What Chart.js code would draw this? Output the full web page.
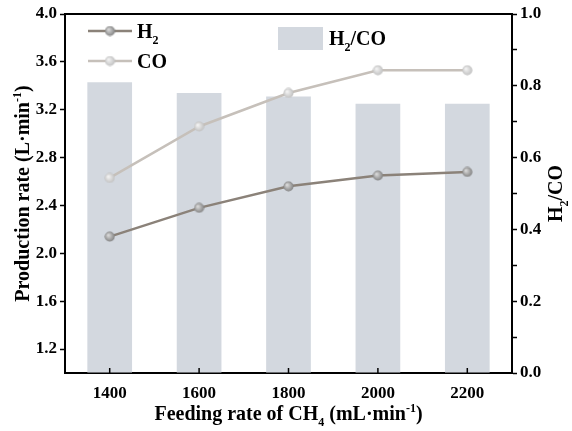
<!DOCTYPE html>
<html>
<head>
<meta charset="utf-8">
<script src="https://cdn.jsdelivr.net/npm/chart.js@4"></script>
<style>
  html, body { margin: 0; padding: 0; background: #fff; }
  #wrap { width: 572px; height: 431px; }
</style>
</head>
<body>
<div id="wrap"><canvas id="gas-chart"></canvas></div>
<script>
const feedRates = ['1400', '1600', '1800', '2000', '2200'];
const h2Rate = [2.14, 2.38, 2.56, 2.65, 2.68];
const coRate = [2.63, 3.06, 3.34, 3.53, 3.53];
const h2CoRatio = [0.81, 0.78, 0.77, 0.75, 0.75];
const leftTicks = [1.2, 1.6, 2.0, 2.4, 2.8, 3.2, 3.6, 4.0];

const FONT = "'Liberation Serif', 'Times New Roman', serif";
const h2Line = '#8b8279';
const coLine = '#c6c0ba';
const barColor = '#d3d8df';

// little shaded ball used as the marker
function ball(base, light) {
    const c = document.createElement('canvas');
    c.width = 11; c.height = 11;
    const g = c.getContext('2d');
    const grad = g.createRadialGradient(4, 4, 0.5, 5.5, 5.5, 5.5);
    grad.addColorStop(0, light);
    grad.addColorStop(1, base);
    g.fillStyle = grad;
    g.beginPath();
    g.arc(5.5, 5.5, 5, 0, Math.PI * 2);
    g.fill();
    return c;
}
const h2Ball = ball('#7d7d7d', '#d8d8d8');
const coBall = ball('#bdbdbd', '#f2f2f2');

// text with sub/superscripts
function richText(ctx, parts, x, y, size, align) {
    const small = Math.round(size * 0.62);
    let w = 0;
    parts.forEach(p => {
        ctx.font = 'bold ' + (p.sub || p.sup ? small : size) + 'px ' + FONT;
        p.w = ctx.measureText(p.t).width;
        w += p.w;
    });
    let cx = align === 'center' ? x - w / 2 : x;
    ctx.textAlign = 'left';
    ctx.textBaseline = 'alphabetic';
    parts.forEach(p => {
        ctx.font = 'bold ' + (p.sub || p.sup ? small : size) + 'px ' + FONT;
        let dy = p.sub ? size * 0.28 : (p.sup ? -size * 0.4 : 0);
        ctx.fillText(p.t, cx, y + dy);
        cx += p.w;
    });
}

const decorations = {
    id: 'decorations',
    afterDraw(chart) {
        const {ctx, chartArea: a, scales: {x}} = chart;
        ctx.save();
        ctx.fillStyle = '#000';
        ctx.strokeStyle = '#000';

        // top frame line
        ctx.lineWidth = 2;
        ctx.beginPath();
        ctx.moveTo(a.left - 1, a.top);
        ctx.lineTo(a.right + 1, a.top);
        ctx.stroke();

        // inward ticks on x axis
        ctx.lineWidth = 1.5;
        feedRates.forEach((r, i) => {
            const px = x.getPixelForValue(i);
            ctx.beginPath();
            ctx.moveTo(px, a.bottom);
            ctx.lineTo(px, a.bottom - 5);
            ctx.stroke();
        });

        // axis titles
        richText(ctx, [{t: 'Feeding rate of CH'}, {t: '4', sub: true}, {t: ' (mL·min'}, {t: '-1', sup: true}, {t: ')'}],
            (a.left + a.right) / 2, 420, 20, 'center');

        ctx.save();
        ctx.translate(29, (a.top + a.bottom) / 2);
        ctx.rotate(-Math.PI / 2);
        richText(ctx, [{t: 'Production rate (L·min'}, {t: '-1', sup: true}, {t: ')'}], 0, 0, 20, 'center');
        ctx.restore();

        ctx.save();
        ctx.translate(562, (a.top + a.bottom) / 2);
        ctx.rotate(-Math.PI / 2);
        richText(ctx, [{t: 'H'}, {t: '2', sub: true}, {t: '/CO'}], 0, 0, 20, 'center');
        ctx.restore();

        // legend
        const items = [
            {y: 31, color: h2Line, img: h2Ball, text: [{t: 'H'}, {t: '2', sub: true}]},
            {y: 61, color: coLine, img: coBall, text: [{t: 'CO'}]}
        ];
        items.forEach(it => {
            ctx.strokeStyle = it.color;
            ctx.lineWidth = 2.5;
            ctx.beginPath();
            ctx.moveTo(88, it.y);
            ctx.lineTo(132, it.y);
            ctx.stroke();
            ctx.drawImage(it.img, 110 - 5.5, it.y - 5.5);
            ctx.fillStyle = '#000';
            richText(ctx, it.text, 137, it.y + 7, 20, 'left');
        });
        ctx.fillStyle = barColor;
        ctx.fillRect(278, 27, 45, 23);
        ctx.fillStyle = '#000';
        richText(ctx, [{t: 'H'}, {t: '2', sub: true}, {t: '/CO'}], 329, 45, 20, 'left');

        ctx.restore();
    }
};

const tickFont = {family: FONT, size: 17, weight: 'bold'};

new Chart(document.getElementById('gas-chart'), {
    type: 'bar',
    data: {
        labels: feedRates,
        datasets: [
            {
                type: 'line',
                label: 'H2',
                data: h2Rate,
                yAxisID: 'y',
                borderColor: h2Line,
                borderWidth: 2.5,
                pointStyle: h2Ball,
                order: 0
            },
            {
                type: 'line',
                label: 'CO',
                data: coRate,
                yAxisID: 'y',
                borderColor: coLine,
                borderWidth: 2.5,
                pointStyle: coBall,
                order: 0
            },
            {
                label: 'H2/CO',
                data: h2CoRatio,
                yAxisID: 'y1',
                backgroundColor: barColor,
                barPercentage: 0.5,
                categoryPercentage: 1,
                order: 1
            }
        ]
    },
    options: {
        responsive: true,
        maintainAspectRatio: false,
        animation: false,
        layout: {padding: {top: 14, left: 0, right: 0, bottom: 0}},
        scales: {
            x: {
                offset: true,
                grid: {display: false},
                border: {color: '#000', width: 2},
                ticks: {color: '#000', font: tickFont, padding: 2},
                afterFit(scale) { scale.height = 58; }
            },
            y: {
                position: 'left',
                min: 1.0,
                max: 4.0,
                afterBuildTicks(scale) {
                    scale.ticks = leftTicks.map(v => ({value: v}));
                },
                grid: {drawOnChartArea: false, tickLength: 5, tickColor: '#000', tickWidth: 1.5},
                border: {color: '#000', width: 2},
                ticks: {color: '#000', font: tickFont, padding: 3,
                    callback: v => Number(v).toFixed(1)},
                afterFit(scale) { scale.width = 65; }
            },
            y1: {
                position: 'right',
                min: 0,
                max: 1.0,
                ticks: {
                    stepSize: 0.1,
                    color: '#000',
                    font: tickFont,
                    padding: 3,
                    autoSkip: false,
                    callback: v => (Math.round(v * 10) % 2 === 0 ? Number(v).toFixed(1) : '')
                },
                grid: {drawOnChartArea: false, tickLength: 5, tickColor: '#000', tickWidth: 1.5},
                border: {color: '#000', width: 2},
                afterFit(scale) { scale.width = 60; }
            }
        },
        plugins: {
            legend: {display: false},
            tooltip: {enabled: false}
        }
    },
    plugins: [decorations]
});
</script>
</body>
</html>
